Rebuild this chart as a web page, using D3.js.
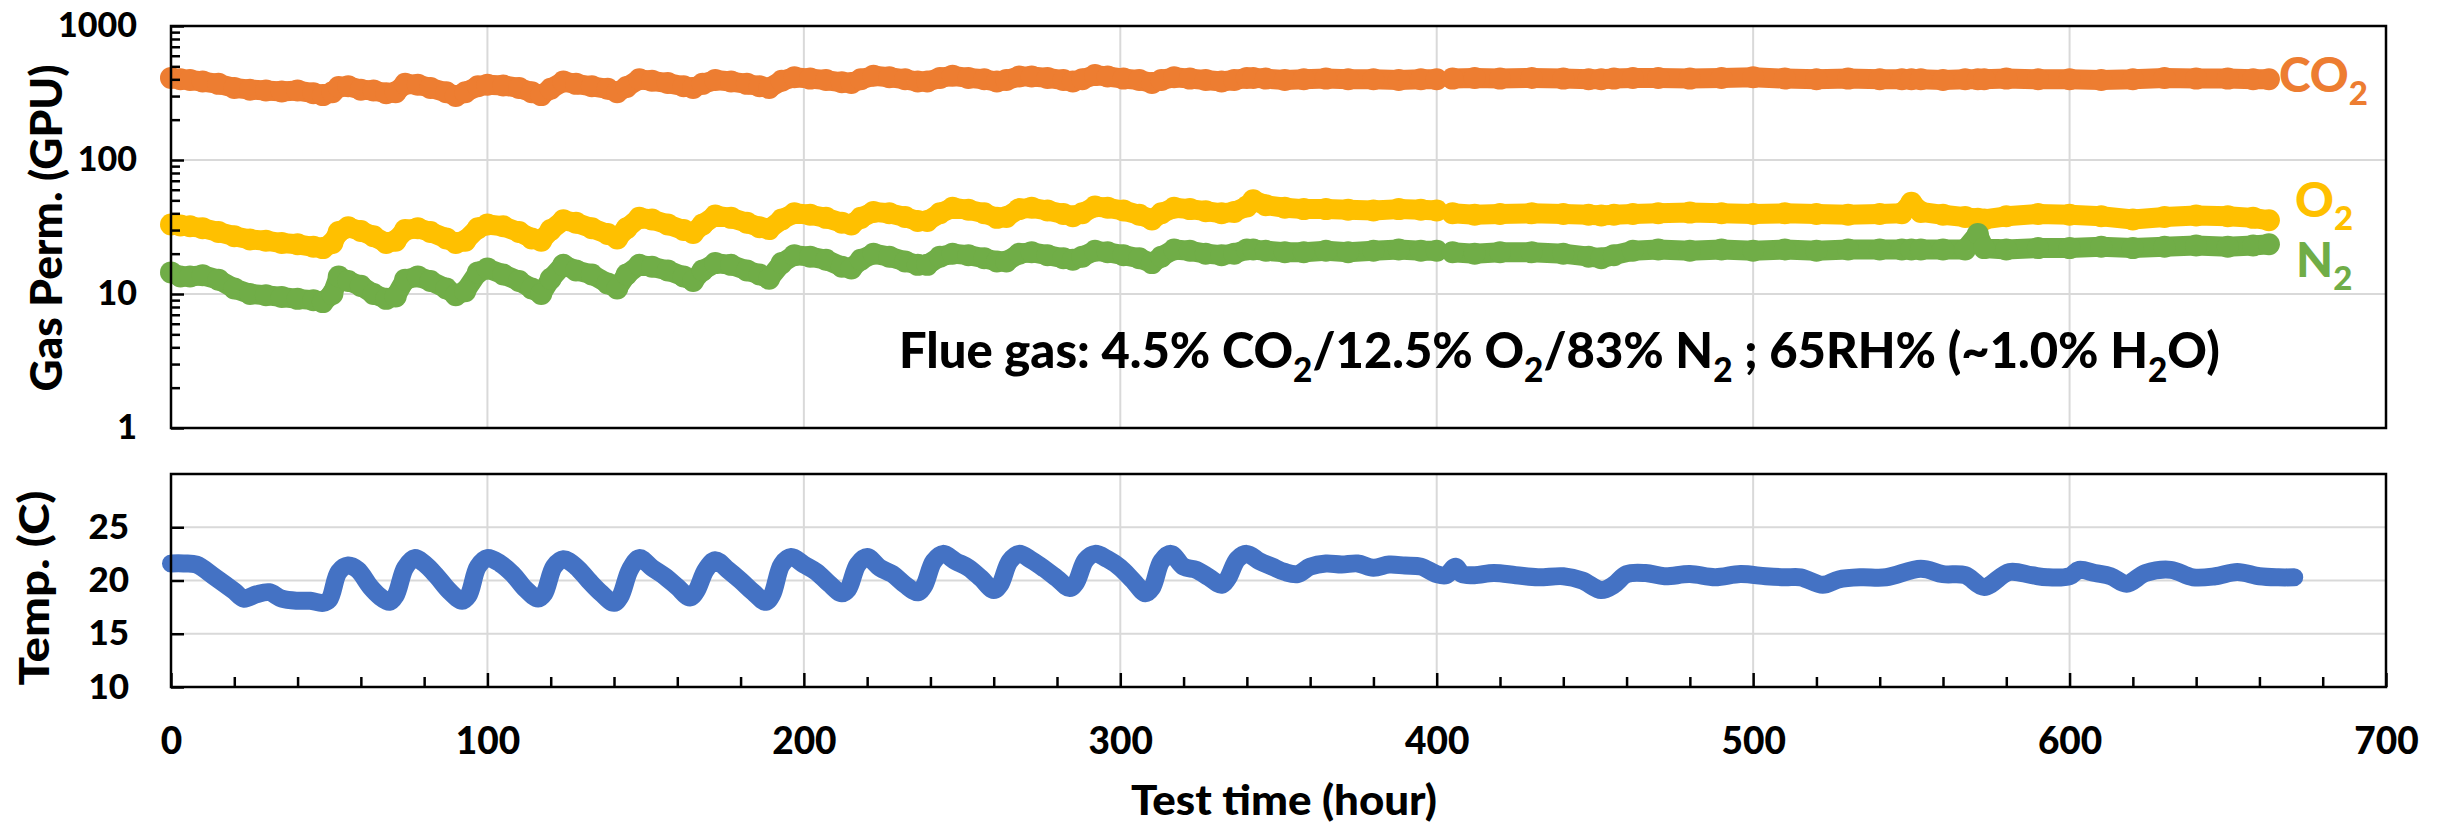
<!DOCTYPE html>
<html>
<head>
<meta charset="utf-8">
<script src="https://cdn.jsdelivr.net/npm/d3@7"></script>
<style>
  body { margin: 0; background: #fff; }
  text { font-family: Lato, "Open Sans", sans-serif; font-weight: 900; }
</style>
</head>
<body>
<svg id="chart" width="2440" height="824"></svg>
<script>
// gas permeance readings (GPU), null marks the short break in the record
var gasHours = [0,3,6,10,15,20,25,30,35,40,
  45,48,51,53,56,60,64,68,71,74,
  78,82,87,90,93,97,100,105,110,114,
  117,120,124,128,133,138,141,144,148,152,
  157,162,165,168,172,177,182,186,189,193,
  197,202,207,212,215,218,222,227,232,236,
  239,243,247,252,257,261,264,268,272,277,
  282,285,288,292,296,301,306,310,313,317,
  322,327,332,336,340,342,346,352,358,365,
  372,380,388,395,400,402.5,405,412,420,430,
  440,448,452,456,462,470,480,490,500,510,
  520,530,540,547,550,553,560,567,571,573,
  580,590,600,610,620,630,640,650,658,663];

var co2 = [410,400,395,385,370,345,335,330,325,330,
  315,305,320,350,355,335,330,315,320,370,
  365,345,320,300,320,355,365,360,345,320,
  305,340,385,370,355,340,320,350,400,390,
  375,355,345,370,395,385,370,355,345,390,
  415,405,395,380,375,400,425,415,400,385,
  385,410,425,410,400,385,395,420,420,410,
  395,385,400,430,420,405,395,375,395,415,
  405,395,385,395,410,410,405,395,400,405,
  400,400,395,400,400,null,405,410,405,410,
  405,400,400,405,410,410,405,410,415,405,
  400,405,400,400,400,400,395,400,400,400,
  405,400,400,395,400,410,405,405,400,400];

var o2 = [33,32.5,32,31,29,27,25.5,25,24,23.5,
  22.5,22,24,29,31.5,29.5,27,24,25,30,
  31,29,26,24,25,31,33,32,29,26,
  25,30,35.5,34,31,28,26,31,37,36,
  33,30,28.5,33,38.5,37,34,31.5,30.5,36,
  40,39,37,34,33,37,41,40,37.5,35,
  35,40,44,42.5,40,37,37.5,43,44,42,
  39.5,38,40,45,44,42,39,36,40,44,
  43,41.5,40,41,45,50,46,44,43,43,
  42.5,42,43,42.5,42,null,40,39,39.5,40,
  39.5,39,38.5,39,39.5,40,40.5,40,39.5,40,
  39.5,39,39.5,40,48,41,39,37.5,36.5,36,
  38,39.5,39,38,36,37.5,38.5,38,37,35.5];

var n2 = [14.5,13.5,13.5,13.8,12.8,11,10,9.8,9.5,9.2,
  9,8.7,10,13.5,12.5,11.5,10,9.2,9.6,12.8,
  13.5,12.5,11,9.8,10.5,14.5,15.5,14,12.5,11,
  10,13,16.5,15,14,12,11,14,16.5,16,
  15,13.5,12.5,15,17,16.5,15,14,13,17,
  19.5,19,18,16,15.5,18,20,19,17.5,16.5,
  16.5,19,20,19.5,18.5,17.5,17.5,20,20.5,19.5,
  18.5,18,19,21,20.5,19.5,18.5,17,19,21.5,
  21,20,19.5,20,21.5,21.5,21,20.5,20.5,21,
  20.5,21,21.5,21,21,null,20.5,20,20.5,20.5,
  20,19,18.5,19.5,21,21.5,21,21.5,21,21.5,
  21,21.5,21.5,21.5,21.5,21.5,21.5,21.5,28,22,
  21.5,22,22,22.5,22,22.5,23,22.5,23,23.5];

// temperature readings (C)
var tempHours = [0,4,8,14,20,23,27,31,35,40,
  44,48,50,53,56,59,63,66,69,71,
  74,77,80,84,88,92,94,97,100,104,
  108,112,116,118,121,124,128,132,136,140,
  142,145,148,152,156,160,164,166,169,172,
  176,180,184,188,190,193,196,200,204,208,
  212,214,217,220,224,228,232,236,238,241,
  244,248,252,256,260,262,265,268,272,276,
  280,284,286,289,292,296,300,304,308,310,
  313,316,320,324,328,332,334,337,340,344,
  348,352,356,360,365,370,375,380,385,390,
  395,400,403,406,408,412,418,425,432,440,
  446,452,456,460,466,472,480,488,496,504,
  510,515,522,527,534,542,553,560,567,573,
  581,588,593,600,603,608,613,618,624,632,
  639,646,653,660,666,671];

var temp = [21.6,21.6,21.5,20.3,19.0,18.3,18.7,18.9,18.3,18.1,
  18.1,17.9,18.2,20.8,21.4,21.0,19.4,18.5,18.0,18.6,
  21.2,22.1,21.6,20.4,19.0,18.1,18.6,21.3,22.1,21.6,
  20.6,19.2,18.3,18.8,21.3,22.0,21.3,20.0,18.8,17.9,
  18.5,21.0,22.1,21.2,20.4,19.4,18.4,19.0,21.0,21.9,
  21.0,20.0,18.9,18.0,18.7,21.5,22.2,21.5,20.8,19.7,
  18.8,19.2,21.5,22.2,21.2,20.6,19.6,18.9,19.5,21.8,
  22.5,21.8,21.2,20.2,19.1,19.6,21.8,22.5,21.9,21.1,
  20.2,19.3,19.8,21.9,22.5,22.0,21.2,20.0,18.8,19.3,
  21.8,22.5,21.3,21.0,20.3,19.6,20.2,22.0,22.5,21.8,
  21.3,20.8,20.6,21.3,21.6,21.5,21.6,21.2,21.5,21.4,
  21.3,20.6,20.5,21.3,20.6,20.5,20.7,20.5,20.3,20.4,
  20.0,19.1,19.6,20.6,20.7,20.4,20.6,20.3,20.6,20.4,
  20.3,20.3,19.6,20.1,20.3,20.3,21.1,20.6,20.5,19.4,
  20.8,20.5,20.3,20.4,21.0,20.7,20.4,19.7,20.7,21.0,
  20.3,20.4,20.8,20.4,20.3,20.3];

var xTicks = [0,100,200,300,400,500,600,700];
var gasTicks = [1,10,100,1000];
var tempTicks = [10,15,20,25];

var svg = d3.select('#chart');

var x = d3.scaleLinear().domain([0, 700]).range([171, 2386]);
var yGas = d3.scaleLog().domain([1, 1000]).range([428, 26]);
var yTemp = d3.scaleLinear().domain([10, 30]).range([687, 474]);

var gridColor = '#d9d9d9';

// grid lines
var grid = svg.append('g');
[[yGas, 428, 26, [10, 100]], [yTemp, 687, 474, [15, 20, 25]]].forEach(function(p) {
  var ys = p[0];
  grid.selectAll(null).data(xTicks.slice(1, -1)).enter().append('line')
    .attr('x1', function(d) { return x(d); }).attr('x2', function(d) { return x(d); })
    .attr('y1', p[1]).attr('y2', p[2])
    .attr('stroke', gridColor).attr('stroke-width', 2);
  grid.selectAll(null).data(p[3]).enter().append('line')
    .attr('x1', x(0)).attr('x2', x(700))
    .attr('y1', function(d) { return ys(d); }).attr('y2', function(d) { return ys(d); })
    .attr('stroke', gridColor).attr('stroke-width', 2);
});

// gas series
var gasSeries = [
  {values: co2, color: '#ED7D31'},
  {values: o2, color: '#FFC000'},
  {values: n2, color: '#70AD47'}
];
var gasLine = d3.line()
  .defined(function(d) { return d[1] != null; })
  .x(function(d) { return x(d[0]); })
  .y(function(d) { return yGas(d[1]); });

gasSeries.forEach(function(s) {
  var pts = gasHours.map(function(h, i) { return [h, s.values[i]]; });
  svg.append('path').datum(pts)
    .attr('d', gasLine)
    .attr('fill', 'none')
    .attr('stroke', s.color)
    .attr('stroke-width', 20)
    .attr('stroke-linecap', 'round')
    .attr('stroke-linejoin', 'round');
  svg.append('g').selectAll('circle')
    .data(pts.filter(function(d) { return d[1] != null; }))
    .enter().append('circle')
    .attr('cx', function(d) { return x(d[0]); })
    .attr('cy', function(d) { return yGas(d[1]); })
    .attr('r', 11)
    .attr('fill', s.color);
});

// temperature series
var tempLine = d3.line()
  .curve(d3.curveCatmullRom.alpha(0.5))
  .x(function(d) { return x(d[0]); })
  .y(function(d) { return yTemp(d[1]); });
svg.append('path')
  .datum(tempHours.map(function(h, i) { return [h, temp[i]]; }))
  .attr('d', tempLine)
  .attr('fill', 'none')
  .attr('stroke', '#4472C4')
  .attr('stroke-width', 18)
  .attr('stroke-linecap', 'round')
  .attr('stroke-linejoin', 'round');

// axes
function styleAxis(g, fontSize) {
  g.select('.domain').remove();
  g.selectAll('.tick line').attr('stroke', '#000').attr('stroke-width', 2.5);
  g.selectAll('.tick text').attr('fill', '#000')
    .style('font-size', fontSize + 'px');
}

var gasMinor = [];
[1, 10, 100].forEach(function(k) {
  for (var m = 2; m <= 9; m++) gasMinor.push(m * k);
});

svg.append('g').attr('transform', 'translate(171,0)')
  .call(d3.axisLeft(yGas).tickValues(gasMinor).tickSize(-9).tickFormat(''))
  .call(styleAxis, 34);
svg.append('g').attr('transform', 'translate(171,0)')
  .call(d3.axisLeft(yGas).tickValues(gasTicks).tickSize(-13).tickPadding(34)
    .tickFormat(d3.format('d')))
  .call(styleAxis, 34);

svg.append('g').attr('transform', 'translate(171,0)')
  .call(d3.axisLeft(yTemp).tickValues(tempTicks).tickSize(-13).tickPadding(42))
  .call(styleAxis, 35);

var xMinor = d3.range(20, 700, 20).filter(function(d) { return d % 100 !== 0; });
svg.append('g').attr('transform', 'translate(0,687)')
  .call(d3.axisBottom(x).tickValues(xMinor).tickSize(-10).tickFormat(''))
  .call(styleAxis, 37);
svg.append('g').attr('transform', 'translate(0,687)')
  .call(d3.axisBottom(x).tickValues(xTicks).tickSize(-14).tickPadding(41))
  .call(styleAxis, 37);

// frames
[[26, 428], [474, 687]].forEach(function(r) {
  svg.append('rect')
    .attr('x', x(0)).attr('y', r[0])
    .attr('width', x(700) - x(0)).attr('height', r[1] - r[0])
    .attr('fill', 'none').attr('stroke', '#000').attr('stroke-width', 2.5);
});

// text with subscripts, stretched to a given length
function richText(parts, opts) {
  var g = svg.append('g');
  var t = g.append('text')
    .attr('text-anchor', opts.anchor || 'start')
    .style('font-size', opts.size + 'px')
    .attr('fill', opts.color || '#000');
  var shift = Math.round(opts.size * 0.27);
  var down = false;
  parts.forEach(function(p) {
    var sub = typeof p !== 'string';
    var ts = t.append('tspan').text(sub ? p.sub : p);
    if (sub) {
      ts.style('font-size', Math.round(opts.size * 0.68) + 'px').attr('dy', shift);
      down = true;
    } else if (down) {
      ts.attr('dy', -shift);
      down = false;
    }
  });
  var s = 1;
  if (opts.len) s = opts.len / t.node().getBBox().width;
  g.attr('transform', 'translate(' + opts.x + ',' + opts.y + ') rotate(' + (opts.rotate || 0) + ') scale(' + s + ',1)');
  return g;
}

richText(['Flue gas: 4.5% CO', {sub: '2'}, '/12.5% O', {sub: '2'}, '/83% N', {sub: '2'},
  ' ; 65RH% (~1.0% H', {sub: '2'}, 'O)'], {x: 899, y: 368, size: 50, len: 1321});

richText(['CO', {sub: '2'}], {x: 2279, y: 92, size: 48, color: '#ED7D31'});
richText(['O', {sub: '2'}], {x: 2295, y: 217, size: 48, color: '#FFC000'});
richText(['N', {sub: '2'}], {x: 2296, y: 277, size: 48, color: '#70AD47'});

richText(['Gas Perm. (GPU)'], {x: 62, y: 228, size: 44, anchor: 'middle', rotate: -90, len: 327});
richText(['Temp. (C)'], {x: 49, y: 588, size: 42, anchor: 'middle', rotate: -90, len: 195});
richText(['Test time (hour)'], {x: 1284, y: 815, size: 42, anchor: 'middle', len: 306});
</script>
</body>
</html>
